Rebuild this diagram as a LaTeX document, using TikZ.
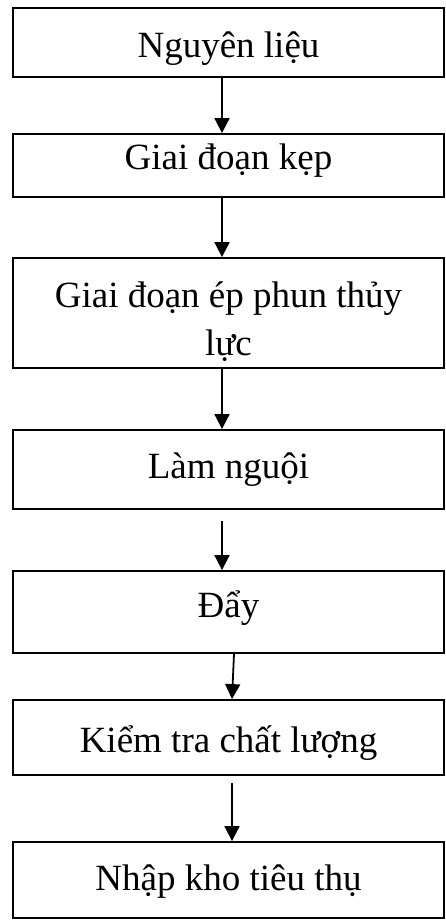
\documentclass[tikz,border=0pt]{standalone}
\usepackage{fontspec}
\setmainfont{Liberation Serif}
\usetikzlibrary{arrows.meta}
\begin{document}
\begin{tikzpicture}[x=1pt,y=-1pt,
  stage/.style={draw=black, line width=1.8pt, rectangle, inner sep=0pt,
    minimum width=431pt},
  caption/.style={anchor=base, inner sep=0pt, font=\fontsize{37}{48}\selectfont},
  flow/.style={line width=1.8pt, -{Triangle[width=15pt,length=15pt]}}]
\useasboundingbox (0,0) rectangle (446,920);
\fill[white] (0,0) rectangle (446,920);

% process stages
\node[stage, minimum height=69pt] (s1) at (228.5,42.5) {};
\node[stage, minimum height=63pt] (s2) at (228.5,165.5) {};
\node[stage, minimum height=110pt] (s3) at (228.5,313) {};
\node[stage, minimum height=79pt] (s4) at (228.5,469.5) {};
\node[stage, minimum height=82pt] (s5) at (228.5,612) {};
\node[stage, minimum height=75pt] (s6) at (228.5,737.5) {};
\node[stage, minimum height=76pt] (s7) at (228.5,880) {};

% stage captions
\node[caption] (t1) at (228.5,58) {Nguyên liệu};
\node[caption] (t2) at (228.5,170) {Giai đoạn kẹp};
\node[caption] (t3a) at (228.5,307) {Giai đoạn ép phun thủy};
\node[caption] (t3b) at (228.5,355) {lực};
\node[caption] (t4) at (228.5,478) {Làm nguội};
\node[caption] (t5) at (228.5,617) {Đẩy};
\node[caption] (t6) at (228.5,752) {Kiểm tra chất lượng};
\node[caption] (t7) at (228.5,890) {Nhập kho tiêu thụ};

% loose arrow starts
\coordinate (a4) at (222,521);
\coordinate (a6) at (232,783);

% flow arrows
\draw[flow] ([xshift=-6.5pt]s1.south) -- ([xshift=-6.5pt]s2.north);
\draw[flow] ([xshift=-6.5pt]s2.south) -- ([xshift=-6.5pt]s3.north);
\draw[flow] ([xshift=-6.5pt]s3.south) -- ([xshift=-6.5pt]s4.north);
\draw[flow] (a4) -- (a4 |- s5.north);
\draw[flow] ([xshift=5.5pt]s5.south) -- ([xshift=3.5pt]s6.north);
\draw[flow] (a6) -- (a6 |- s7.north);
\end{tikzpicture}
\end{document}
